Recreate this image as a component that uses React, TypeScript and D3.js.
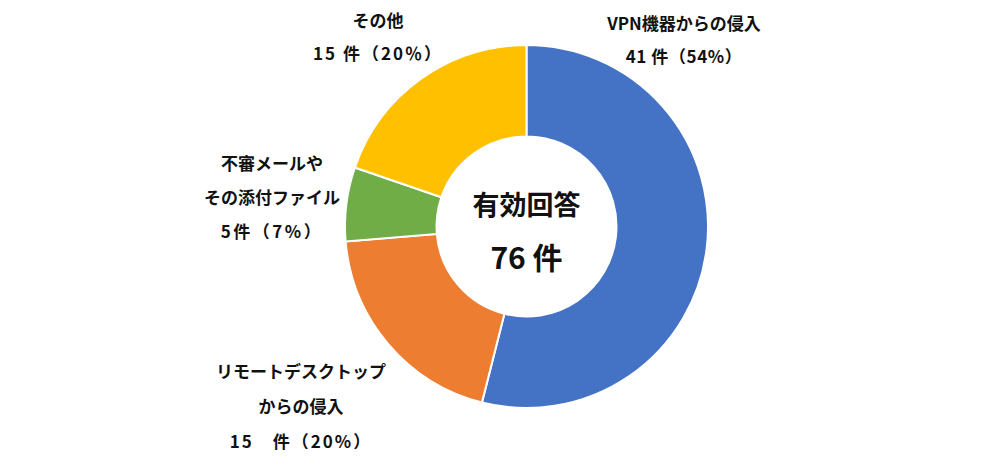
import React from "react";
import * as d3 from "d3";

const categories = ["VPN機器からの侵入", "リモートデスクトップからの侵入", "不審メールやその添付ファイル", "その他"];
const values = [41, 15, 5, 15];
const labelLines = [
  ["VPN機器からの侵入", "41 件（54%）"],
  ["リモートデスクトップ", "からの侵入", "15　件（20%）"],
  ["不審メールや", "その添付ファイル", "5件（7%）"],
  ["その他", "15 件（20％）"],
];
const centerLines = ["有効回答", "76 件"];
const colors = ["#4472C4", "#ED7D31", "#70AD47", "#FFC000"];

// layout (label anchor positions: x center, first baseline, line gap, per-line letter spacing)
const labelLayout = [
  { x: 684, y: 30, gap: 33, ls: [0, 0.6] },
  { x: 301, y: 378, gap: 35, ls: [0, 0, 2] },
  { x: 272, y: 170, gap: 34, ls: [0, 0, 2.5] },
  { x: 378, y: 27, gap: 33, ls: [0, 2] },
];

export default function App() {
  const W = 1001, H = 466;
  const cx = 526.5, cy = 226.5, R = 181.5, r = 90;
  const pie = d3.pie<number>().sort(null).value((d) => d);
  const arcs = pie(values);
  const arc = d3.arc<d3.PieArcDatum<number>>().innerRadius(r).outerRadius(R);
  const font = "'Noto Sans CJK JP', 'Noto Sans', sans-serif";
  return (
    <svg width={W} height={H} style={{ position: "absolute", left: 0, top: 0, background: "#fff" }}>
      <g transform={`translate(${cx},${cy})`}>
        {arcs.map((a, i) => (
          <path key={categories[i]} d={arc(a) || ""} fill={colors[i]} stroke="#fff" strokeWidth={2} />
        ))}
        <text x={0} y={-12} textAnchor="middle" fontFamily={font} fontWeight="bold" fontSize={27} fill="#111">
          {centerLines[0]}
        </text>
        <text x={0} y={42} textAnchor="middle" fontFamily={font} fontWeight="bold" fontSize={30} fill="#111" style={{ whiteSpace: "pre" }}>
          {centerLines[1]}
        </text>
      </g>
      {labelLines.map((lines, i) => (
        <g key={i}>
          {lines.map((t, j) => (
            <text
              key={j}
              x={labelLayout[i].x}
              y={labelLayout[i].y + j * labelLayout[i].gap}
              textAnchor="middle"
              fontFamily={font}
              fontWeight="bold"
              fontSize={17}
              letterSpacing={labelLayout[i].ls[j]}
              fill="#111"
              style={{ whiteSpace: "pre" }}
            >
              {t}
            </text>
          ))}
        </g>
      ))}
    </svg>
  );
}
